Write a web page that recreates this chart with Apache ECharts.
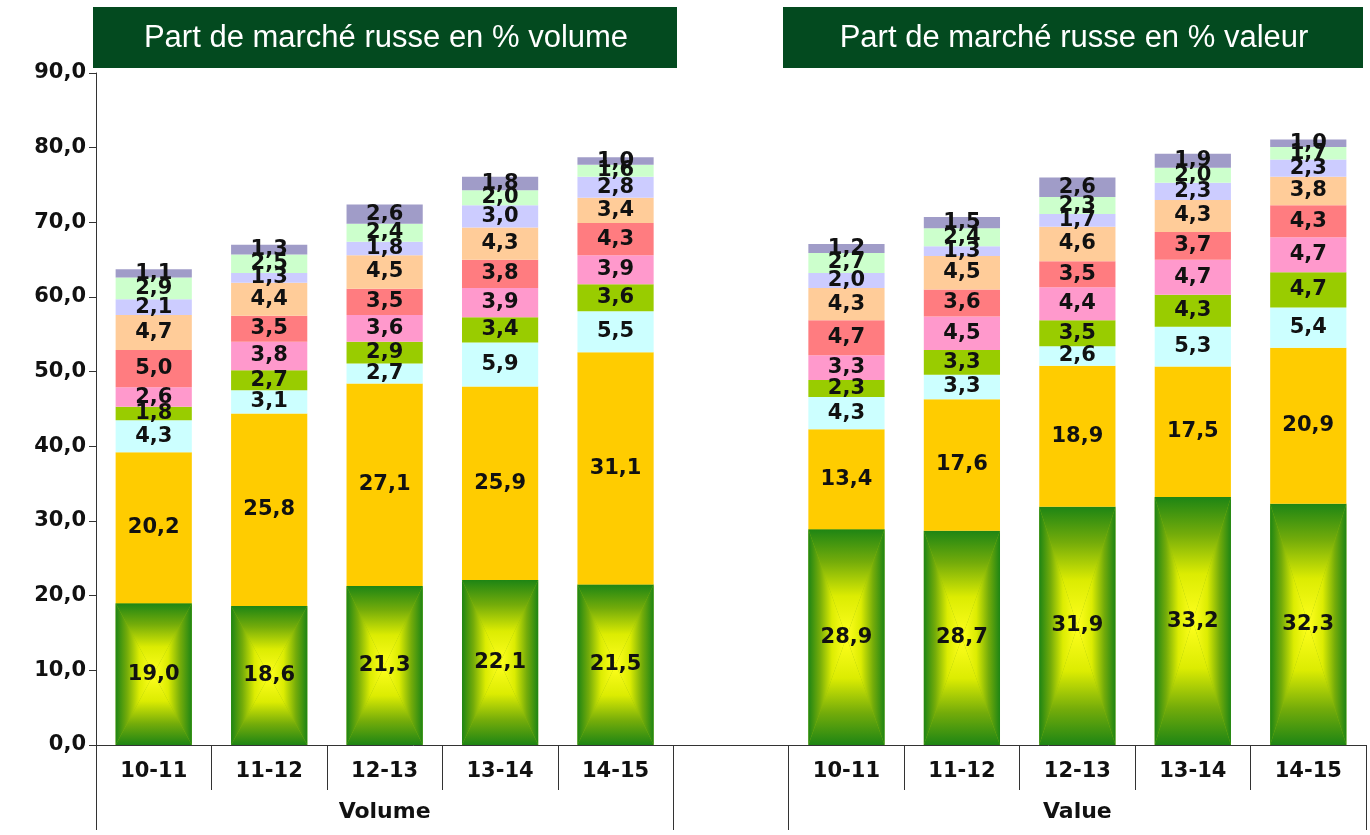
<!DOCTYPE html>
<html>
<head>
<meta charset="utf-8">
<script src="https://cdn.jsdelivr.net/npm/echarts@6/dist/echarts.min.js"></script>
<style>
  html, body { margin: 0; padding: 0; background: #ffffff; }
  #chart { width: 1370px; height: 835px; }
</style>
</head>
<body>
<div id="chart"></div>
<script>
// Seasons shown in each group, and the two group names
const categories = ['10-11', '11-12', '12-13', '13-14', '14-15'];
const groupLabels = ['Volume', 'Value'];
const titleVolume = 'Part de marché russe en % volume';
const titleValue = 'Part de marché russe en % valeur';

// Value axis range (%)
const yMin = 0;
const yMax = 90;
const yStep = 10;

// Stacked segments, bottom to top — volume share
const volS1  = [19.0, 18.6, 21.3, 22.1, 21.5];
const volS2  = [20.2, 25.8, 27.1, 25.9, 31.1];
const volS3  = [4.3, 3.1, 2.7, 5.9, 5.5];
const volS4  = [1.8, 2.7, 2.9, 3.4, 3.6];
const volS5  = [2.6, 3.8, 3.6, 3.9, 3.9];
const volS6  = [5.0, 3.5, 3.5, 3.8, 4.3];
const volS7  = [4.7, 4.4, 4.5, 4.3, 3.4];
const volS8  = [2.1, 1.3, 1.8, 3.0, 2.8];
const volS9  = [2.9, 2.5, 2.4, 2.0, 1.6];
const volS10 = [1.1, 1.3, 2.6, 1.8, 1.0];

// Stacked segments, bottom to top — value share
const valS1  = [28.9, 28.7, 31.9, 33.2, 32.3];
const valS2  = [13.4, 17.6, 18.9, 17.5, 20.9];
const valS3  = [4.3, 3.3, 2.6, 5.3, 5.4];
const valS4  = [2.3, 3.3, 3.5, 4.3, 4.7];
const valS5  = [3.3, 4.5, 4.4, 4.7, 4.7];
const valS6  = [4.7, 3.6, 3.5, 3.7, 4.3];
const valS7  = [4.3, 4.5, 4.6, 4.3, 3.8];
const valS8  = [2.0, 1.3, 1.7, 2.3, 2.3];
const valS9  = [2.7, 2.4, 2.3, 2.0, 1.7];
const valS10 = [1.2, 1.5, 2.6, 1.9, 1.0];

// ---------------------------------------------------------------
const volSegs = [volS1, volS2, volS3, volS4, volS5, volS6, volS7, volS8, volS9, volS10];
const valSegs = [valS1, valS2, valS3, valS4, valS5, valS6, valS7, valS8, valS9, valS10];

const segColors = [
  'rgba(0,0,0,0)', // bottom segment is painted by the glow series below
  '#FFCC00', '#CCFFFF', '#99CC00', '#FF99CC',
  '#FF7C80', '#FFCC99', '#CCCCFF', '#CCFFCC', '#A09CC8'
];

// One category axis: five volume seasons, a spacer slot, five value seasons
const axisCats = categories.concat([''], categories);
const groupRow = axisCats.map(function (c, i) {
  if (i === 2) return groupLabels[0];
  if (i === 8) return groupLabels[1];
  return '';
});
const groupBoundaries = [0, categories.length, categories.length + 1];

const BAR_GAP = 0.34;
const numFont = '"DejaVu Sans", "Liberation Sans", Arial, sans-serif';

function fmt(v) {
  return v.toFixed(1).replace('.', ',');
}

function joined(i) {
  return volSegs[i].concat([null], valSegs[i]);
}

// Rectangular glow: green edges fading to yellow in the middle
const glowStops = [
  { offset: 0, color: '#1E8514' },
  { offset: 0.3, color: '#74AC0A' },
  { offset: 0.62, color: '#DCEC02' },
  { offset: 1, color: '#FFFF1E' }
];
function glow(x, y, x2, y2) {
  return new echarts.graphic.LinearGradient(x, y, x2, y2, glowStops);
}

function renderGlow(params, api) {
  const idx = api.value(0);
  const v = api.value(1);
  const top = api.coord([idx, v]);
  const base = api.coord([idx, 0]);
  const w = api.size([1, 0])[0] * (1 - BAR_GAP);
  const x0 = top[0] - w / 2;
  const x1 = top[0] + w / 2;
  const y0 = top[1];
  const y1 = base[1];
  const cx = top[0];
  const cy = (y0 + y1) / 2;
  return {
    type: 'group',
    children: [
      { type: 'rect', shape: { x: x0, y: y0, width: w, height: y1 - y0 }, style: { fill: '#8FBA08' } },
      { type: 'polygon', shape: { points: [[x0, y0], [x0, y1], [cx, cy]] }, style: { fill: glow(0, 0, 1, 0) } },
      { type: 'polygon', shape: { points: [[x1, y0], [x1, y1], [cx, cy]] }, style: { fill: glow(1, 0, 0, 0) } },
      { type: 'polygon', shape: { points: [[x0, y0], [x1, y0], [cx, cy]] }, style: { fill: glow(0, 0, 0, 1) } },
      { type: 'polygon', shape: { points: [[x0, y1], [x1, y1], [cx, cy]] }, style: { fill: glow(0, 1, 0, 0) } }
    ]
  };
}

const series = [];

series.push({
  type: 'custom',
  z: 1,
  xAxisIndex: 0,
  yAxisIndex: 0,
  renderItem: renderGlow,
  encode: { x: 0, y: 1 },
  data: joined(0).map(function (v, i) { return v == null ? null : [i, v]; })
                 .filter(function (d) { return d !== null; }),
  silent: true
});

for (let s = 0; s < volSegs.length; s++) {
  series.push({
    type: 'bar',
    stack: 'share',
    z: 2,
    xAxisIndex: 0,
    yAxisIndex: 0,
    barCategoryGap: (BAR_GAP * 100) + '%',
    data: joined(s),
    itemStyle: { color: segColors[s] },
    label: {
      show: true,
      position: 'inside',
      color: '#111111',
      fontFamily: numFont,
      fontWeight: 'bold',
      fontSize: 21,
      formatter: function (p) { return p.value == null ? '' : fmt(p.value); }
    },
    labelLayout: { hideOverlap: false },
    emphasis: { disabled: true },
    silent: true
  });
}

const axisColor = '#333333';

const option = {
  animation: false,
  backgroundColor: '#ffffff',
  grid: {
    left: 96, right: 4, top: 73, bottom: 90,
    containLabel: false,
    outerBoundsMode: 'none'
  },
  xAxis: [
    {
      type: 'category',
      data: axisCats,
      axisLine: { show: true, lineStyle: { color: axisColor, width: 1 } },
      axisTick: { show: true, interval: 0, length: 45, lineStyle: { color: axisColor } },
      axisLabel: {
        interval: 0, margin: 16, color: '#111111',
        fontFamily: numFont, fontWeight: 'bold', fontSize: 21
      },
      splitLine: { show: false }
    },
    {
      type: 'category',
      data: groupRow,
      position: 'bottom',
      offset: 45,
      axisLine: { show: false },
      axisTick: {
        show: true, length: 40, lineStyle: { color: axisColor },
        interval: function (i) { return groupBoundaries.indexOf(i) >= 0; }
      },
      axisLabel: {
        interval: 0, margin: 11, color: '#111111',
        fontFamily: numFont, fontWeight: 'bold', fontSize: 22
      },
      splitLine: { show: false }
    }
  ],
  yAxis: {
    type: 'value',
    min: yMin, max: yMax, interval: yStep,
    axisLine: { show: true, lineStyle: { color: axisColor, width: 1 } },
    axisTick: { show: true, length: 7, lineStyle: { color: axisColor } },
    splitLine: { show: false },
    axisLabel: {
      margin: 10, color: '#111111',
      fontFamily: numFont, fontWeight: 'bold', fontSize: 21,
      formatter: function (v) { return fmt(v); }
    }
  },
  graphic: [
    {
      type: 'group',
      children: [
        { type: 'rect', shape: { x: 93, y: 7, width: 584, height: 61 }, style: { fill: '#034A1F' } },
        { type: 'text', style: { text: titleVolume, x: 386, y: 38, align: 'center', verticalAlign: 'middle',
            fill: '#ffffff', font: '31px "Liberation Sans", Arial, sans-serif' } }
      ]
    },
    {
      type: 'group',
      children: [
        { type: 'rect', shape: { x: 783, y: 7, width: 580, height: 61 }, style: { fill: '#034A1F' } },
        { type: 'text', style: { text: titleValue, x: 1074, y: 38, align: 'center', verticalAlign: 'middle',
            fill: '#ffffff', font: '31px "Liberation Sans", Arial, sans-serif' } }
      ]
    }
  ],
  series: series
};

const chart = echarts.init(document.getElementById('chart'), null, { renderer: 'canvas' });
chart.setOption(option);
</script>
</body>
</html>
